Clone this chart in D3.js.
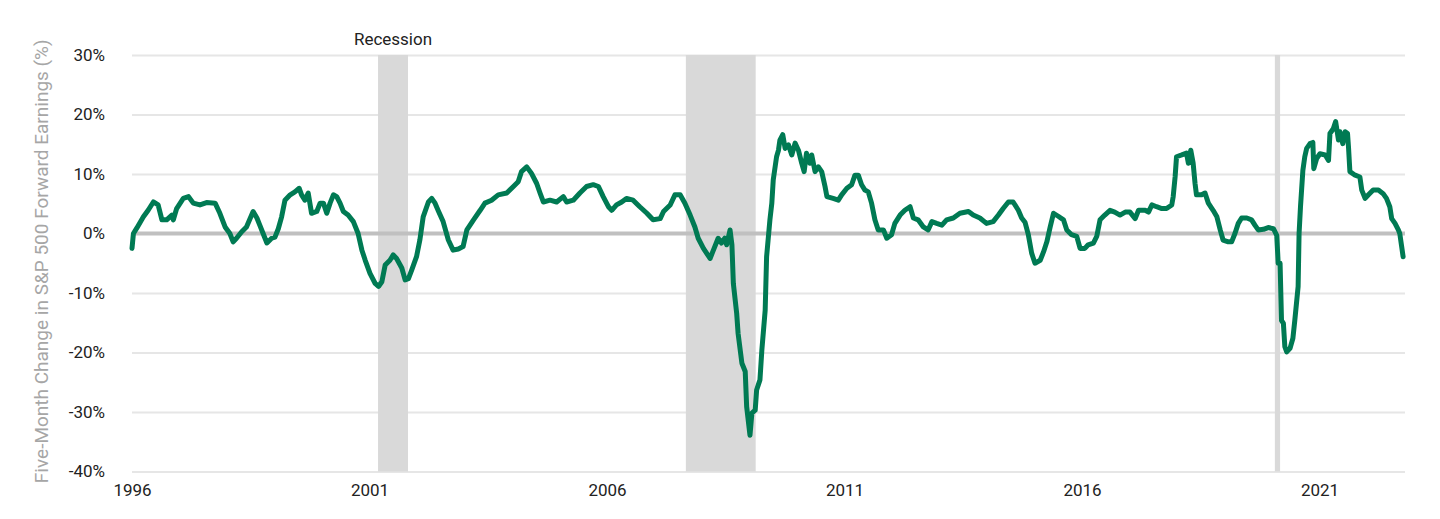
<!DOCTYPE html>
<html>
<head>
<meta charset="utf-8">
<script src="https://cdn.jsdelivr.net/npm/d3@7"></script>
<style>
    body { margin: 0; background: #fff; font-family: Roboto, 'Noto Sans', sans-serif; }
    .tick text { font-family: Roboto, sans-serif; font-size: 17px; fill: #222; }
    .axis-title { font-family: Roboto, sans-serif; font-size: 19px; fill: #a6a6a6; }
    .band-label { font-family: Roboto, sans-serif; font-size: 17px; fill: #222; }
</style>
</head>
<body>
<div id="chart"></div>
<script>
// decimal years
const years = [
    1996.00, 1996.03, 1996.10, 1996.24, 1996.34, 1996.45, 1996.55, 1996.63, 1996.73, 1996.84,
    1996.87, 1996.94, 1997.08, 1997.19, 1997.29, 1997.43, 1997.57, 1997.75, 1997.85, 1997.96,
    1998.06, 1998.13, 1998.20, 1998.31, 1998.41, 1998.55, 1998.63, 1998.69, 1998.76, 1998.84,
    1998.94, 1999.01, 1999.08, 1999.15, 1999.22, 1999.33, 1999.43, 1999.52, 1999.57, 1999.64,
    1999.71, 1999.78, 1999.89, 1999.96, 2000.03, 2000.10, 2000.17, 2000.24, 2000.31, 2000.38,
    2000.45, 2000.55, 2000.66, 2000.76, 2000.84, 2000.91, 2001.01, 2001.12, 2001.19, 2001.26,
    2001.33, 2001.43, 2001.50, 2001.57, 2001.68, 2001.75, 2001.82, 2001.89, 2001.99, 2002.06,
    2002.13, 2002.24, 2002.31, 2002.38, 2002.45, 2002.55, 2002.66, 2002.76, 2002.87, 2002.97,
    2003.05, 2003.19, 2003.33, 2003.43, 2003.57, 2003.71, 2003.89, 2004.03, 2004.13, 2004.20,
    2004.31, 2004.41, 2004.52, 2004.59, 2004.66, 2004.80, 2004.94, 2005.08, 2005.15, 2005.29,
    2005.43, 2005.57, 2005.71, 2005.82, 2005.92, 2006.03, 2006.10, 2006.20, 2006.31, 2006.41,
    2006.55, 2006.69, 2006.84, 2006.97, 2007.12, 2007.19, 2007.33, 2007.43, 2007.54, 2007.64,
    2007.75, 2007.85, 2007.92, 2008.03, 2008.17, 2008.24, 2008.34, 2008.41, 2008.48, 2008.52,
    2008.59, 2008.63, 2008.66, 2008.73, 2008.76, 2008.84, 2008.91, 2008.94, 2009.01, 2009.05,
    2009.12, 2009.15, 2009.22, 2009.26, 2009.33, 2009.36, 2009.43, 2009.47, 2009.50, 2009.57,
    2009.61, 2009.64, 2009.70, 2009.75, 2009.82, 2009.89, 2009.96, 2010.03, 2010.10, 2010.15,
    2010.20, 2010.27, 2010.31, 2010.38, 2010.45, 2010.52, 2010.59, 2010.63, 2010.76, 2010.87,
    2010.94, 2011.05, 2011.15, 2011.22, 2011.29, 2011.36, 2011.43, 2011.50, 2011.57, 2011.64,
    2011.71, 2011.82, 2011.89, 2011.99, 2012.06, 2012.17, 2012.27, 2012.38, 2012.45, 2012.55,
    2012.66, 2012.76, 2012.84, 2012.94, 2013.05, 2013.15, 2013.29, 2013.43, 2013.61, 2013.71,
    2013.85, 2013.99, 2014.13, 2014.24, 2014.34, 2014.45, 2014.55, 2014.66, 2014.73, 2014.80,
    2014.87, 2014.94, 2015.01, 2015.12, 2015.19, 2015.26, 2015.33, 2015.40, 2015.50, 2015.61,
    2015.68, 2015.78, 2015.89, 2015.96, 2016.06, 2016.13, 2016.24, 2016.31, 2016.38, 2016.48,
    2016.59, 2016.69, 2016.80, 2016.91, 2017.01, 2017.12, 2017.19, 2017.33, 2017.40, 2017.47,
    2017.57, 2017.68, 2017.78, 2017.89, 2017.92, 2017.96, 2017.99, 2018.10, 2018.20, 2018.24,
    2018.29, 2018.34, 2018.38, 2018.41, 2018.52, 2018.59, 2018.66, 2018.76, 2018.84, 2018.91,
    2018.97, 2019.08, 2019.15, 2019.22, 2019.29, 2019.36, 2019.47, 2019.57, 2019.64, 2019.71,
    2019.82, 2019.92, 2020.03, 2020.10, 2020.13, 2020.17, 2020.20, 2020.24, 2020.27, 2020.31,
    2020.38, 2020.44, 2020.48, 2020.55, 2020.57, 2020.60, 2020.65, 2020.69, 2020.73, 2020.80,
    2020.86, 2020.88, 2020.94, 2021.01, 2021.12, 2021.19, 2021.22, 2021.29, 2021.34, 2021.40,
    2021.43, 2021.49, 2021.54, 2021.59, 2021.61, 2021.64, 2021.75, 2021.85, 2021.89, 2021.96,
    2022.03, 2022.13, 2022.24, 2022.34, 2022.41, 2022.48, 2022.52, 2022.59, 2022.66, 2022.69,
    2022.73, 2022.76
];

// five-month change in forward earnings, %
const changes = [
    -2.5, 0.0, 0.9, 2.8, 3.9, 5.3, 4.8, 2.3, 2.3, 3.1,
    2.3, 4.2, 5.9, 6.2, 5.1, 4.8, 5.2, 5.1, 3.4, 1.1,
    0.0, -1.4, -0.8, 0.3, 1.1, 3.7, 2.6, 1.4, 0.0, -1.6,
    -0.8, -0.6, 0.8, 2.8, 5.6, 6.5, 7.0, 7.6, 6.5, 5.6,
    6.8, 3.4, 3.7, 5.1, 5.1, 3.4, 5.1, 6.5, 6.2, 5.1,
    3.7, 3.1, 2.0, 0.0, -2.8, -4.5, -6.7, -8.4, -8.9, -8.1,
    -5.3, -4.5, -3.6, -4.2, -5.8, -7.8, -7.6, -6.1, -3.9, -1.1,
    2.8, 5.3, 5.9, 5.1, 3.8, 2.0, -1.1, -2.8, -2.6, -2.2,
    0.6, 2.3, 3.9, 5.1, 5.6, 6.5, 6.8, 7.9, 8.7, 10.4,
    11.2, 10.1, 8.4, 6.8, 5.3, 5.6, 5.3, 6.2, 5.3, 5.6,
    6.8, 7.9, 8.2, 7.9, 6.2, 4.5, 3.9, 4.8, 5.3, 5.9,
    5.6, 4.5, 3.4, 2.3, 2.5, 3.7, 4.8, 6.5, 6.5, 5.1,
    3.1, 1.1, -0.8, -2.5, -4.2, -2.8, -0.8, -1.6, -0.8, -1.9,
    0.6, -1.9, -8.4, -13.4, -16.8, -21.8, -23.2, -29.1, -33.9, -30.2,
    -29.7, -26.3, -24.6, -19.6, -12.9, -3.9, 2.3, 5.1, 9.0, 12.9,
    14.0, 15.7, 16.6, 14.3, 14.9, 13.2, 15.2, 14.0, 11.8, 10.4,
    13.5, 11.8, 13.2, 10.4, 11.2, 10.4, 7.9, 6.2, 5.9, 5.6,
    6.5, 7.6, 8.2, 9.8, 9.8, 8.2, 7.3, 7.0, 5.1, 2.3,
    0.6, 0.6, -0.8, -0.2, 1.7, 3.1, 3.9, 4.5, 2.6, 2.3,
    1.1, 0.6, 2.0, 1.7, 1.4, 2.3, 2.6, 3.4, 3.7, 3.1,
    2.6, 1.7, 2.0, 3.1, 4.2, 5.3, 5.3, 3.9, 2.6, 1.9,
    -0.2, -3.3, -5.0, -4.5, -3.1, -1.4, 1.1, 3.4, 2.9, 2.3,
    0.6, -0.2, -0.5, -2.5, -2.5, -1.9, -1.6, -0.5, 2.3, 3.1,
    3.9, 3.6, 3.1, 3.6, 3.6, 2.5, 3.9, 3.9, 3.6, 4.8,
    4.5, 4.2, 4.2, 4.8, 6.2, 9.5, 12.9, 13.2, 13.5, 11.8,
    14.0, 11.8, 8.4, 6.5, 6.5, 6.8, 5.1, 3.9, 2.8, 0.6,
    -1.1, -1.4, -1.4, 0.0, 1.7, 2.6, 2.6, 2.3, 1.4, 0.6,
    0.7, 1.0, 0.8, -0.3, -5.0, -5.0, -14.6, -15.1, -19.0, -19.9,
    -19.3, -17.6, -14.6, -8.9, 0.0, 4.5, 10.6, 12.9, 14.3, 15.1,
    15.3, 10.9, 12.6, 13.4, 13.2, 12.3, 16.8, 17.6, 18.8, 15.7,
    17.1, 15.1, 17.1, 16.8, 14.6, 10.4, 9.8, 9.5, 7.3, 5.9,
    6.5, 7.3, 7.3, 6.7, 5.9, 4.5, 2.5, 1.7, 0.6, 0.0,
    -2.2, -3.9
];

// recession periods, decimal years
const recessionStarts = [2001.18, 2007.66, 2020.06];
const recessionEnds = [2001.81, 2009.13, 2020.17];

const xTickValues = [1996, 2001, 2006, 2011, 2016, 2021];
const yTickValues = [-40, -30, -20, -10, 0, 10, 20, 30];

class RecessionLineChart {
    constructor(_config) {
        this.config = {
            parentElement: _config.parentElement,
            containerWidth: _config.containerWidth || 1440,
            containerHeight: _config.containerHeight || 519,
            margin: _config.margin || { top: 55, right: 35, bottom: 47.5, left: 132 }
        };
        this.data = years.map((y, i) => ({ year: y, value: changes[i] }));
        this.recessions = recessionStarts.map((s, i) => ({ start: s, end: recessionEnds[i] }));
        this.initVis();
    }

    initVis() {
        let vis = this;

        vis.width = vis.config.containerWidth - vis.config.margin.left - vis.config.margin.right;
        vis.height = vis.config.containerHeight - vis.config.margin.top - vis.config.margin.bottom;

        vis.svg = d3.select(vis.config.parentElement).append('svg')
            .attr('width', vis.config.containerWidth)
            .attr('height', vis.config.containerHeight);

        vis.xScale = d3.scaleLinear()
            .domain([1996, 2022.8])
            .range([0, vis.width]);

        vis.yScale = d3.scaleLinear()
            .domain([-40, 30])
            .range([vis.height, 0]);

        vis.xAxis = d3.axisBottom(vis.xScale)
            .tickValues(xTickValues)
            .tickFormat(d3.format('d'))
            .tickSize(0)
            .tickPadding(12);

        vis.yAxis = d3.axisLeft(vis.yScale)
            .tickValues(yTickValues)
            .tickFormat(d => d + '%')
            .tickSize(-vis.width)
            .tickPadding(27);

        vis.chart = vis.svg.append('g')
            .attr('transform', `translate(${vis.config.margin.left},${vis.config.margin.top})`);

        vis.yAxisG = vis.chart.append('g').attr('class', 'axis y-axis');
        vis.bandsG = vis.chart.append('g').attr('class', 'bands');
        vis.zeroG = vis.chart.append('g').attr('class', 'zero');
        vis.lineG = vis.chart.append('g').attr('class', 'series');
        vis.xAxisG = vis.chart.append('g')
            .attr('class', 'axis x-axis')
            .attr('transform', `translate(0,${vis.height})`);

        // axis title
        vis.svg.append('text')
            .attr('class', 'axis-title')
            .attr('transform', `translate(48,${vis.config.margin.top + vis.height / 2 - 2}) rotate(-90)`)
            .attr('text-anchor', 'middle')
            .text('Five-Month Change in S&P 500 Forward Earnings (%)');

        vis.renderVis();
    }

    renderVis() {
        let vis = this;

        // gridlines + y labels
        vis.yAxisG.call(vis.yAxis)
            .call(g => g.select('.domain').remove())
            .call(g => g.selectAll('.tick line')
                .attr('stroke', '#e6e6e6')
                .attr('stroke-width', 2));

        vis.xAxisG.call(vis.xAxis)
            .call(g => g.select('.domain').remove());

        // recession bands
        vis.bandsG.selectAll('.band')
            .data(vis.recessions)
            .join('rect')
                .attr('class', 'band')
                .attr('x', d => vis.xScale(d.start))
                .attr('width', d => vis.xScale(d.end) - vis.xScale(d.start))
                .attr('y', 0)
                .attr('height', vis.height)
                .attr('fill', '#d9d9d9');

        vis.bandsG.append('text')
            .attr('class', 'band-label')
            .attr('x', vis.xScale((vis.recessions[0].start + vis.recessions[0].end) / 2))
            .attr('y', -10)
            .attr('text-anchor', 'middle')
            .text('Recession');

        // zero line
        vis.zeroG.append('line')
            .attr('x1', 0)
            .attr('x2', vis.width)
            .attr('y1', vis.yScale(0))
            .attr('y2', vis.yScale(0))
            .attr('stroke', '#c0c0c0')
            .attr('stroke-width', 4);

        const line = d3.line()
            .x(d => vis.xScale(d.year))
            .y(d => vis.yScale(d.value));

        vis.lineG.append('path')
            .datum(vis.data)
            .attr('d', line)
            .attr('fill', 'none')
            .attr('stroke', '#007a53')
            .attr('stroke-width', 5)
            .attr('stroke-linejoin', 'round')
            .attr('stroke-linecap', 'round');
    }
}

new RecessionLineChart({ parentElement: '#chart' });
</script>
</body>
</html>
